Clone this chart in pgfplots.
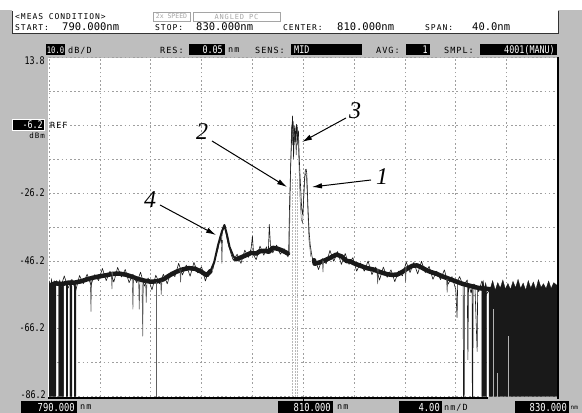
\documentclass[border=0pt]{standalone}
\usepackage{fontspec}
\usepackage{pgfplots}
\pgfplotsset{compat=1.18}
\usetikzlibrary{arrows.meta}
\setmainfont{DejaVu Sans}
\newfontfamily\mono{DejaVu Sans Mono}
\newfontfamily\cond[FakeStretch=0.8]{DejaVu Sans Mono}
\newfontfamily\smallmono[LetterSpace=12]{DejaVu Sans Mono}
\newfontfamily\ann{Liberation Serif}
\definecolor{bggray}{RGB}{190,190,190}
\definecolor{trace}{RGB}{25,25,25}
\definecolor{lgray}{RGB}{165,165,165}
\newcommand{\tk}{\cond\fontsize{10.5bp}{12bp}\selectfont}
\newcommand{\hd}{\mono\fontsize{10.5bp}{12bp}\selectfont}
\newcommand{\sm}{\smallmono\fontsize{8bp}{9bp}\selectfont}
\newcommand{\smm}{\smallmono\fontsize{8.5bp}{9bp}\selectfont}
\newcommand{\bx}{\cond\fontsize{10.5bp}{12bp}\selectfont}
\newcommand{\bxs}{\cond\fontsize{9bp}{10bp}\selectfont}
\newcommand{\bt}{\cond\fontsize{11bp}{12bp}\selectfont}
\newcommand{\an}{\ann\itshape\fontsize{24bp}{26bp}\selectfont}
\pgfplotsset{
  band/.style={trace, line width=4.5bp, line join=round, line cap=round, mark=none},
  det/.style={trace, line width=0.6bp, line join=round, mark=none},
  spk/.style={gray!75!black, line width=0.6bp, mark=none},
  wspk/.style={gray!60, line width=0.7bp, mark=none},
  blk/.style={fill=trace, draw=trace, line width=0.3bp, mark=none},
}
\begin{document}
\begin{tikzpicture}
\path[use as bounding box] (0,0) rectangle (582bp,413bp);
\clip (0,0) rectangle (582bp,413bp);
\fill[bggray] (0,0) rectangle (582bp,413bp);
\begin{scope}[x=1bp,y=-1bp,shift={(0,413bp)}]
  \fill[white] (0,0) rectangle (582,10);
  \fill[white] (12,10) rectangle (558,34);
  \draw[line width=0.7bp, black!80] (12,11) -- (12,33.5) -- (558,33.5) -- (558,11);
  \fill[white] (48,57.6) rectangle (557.5,397);
\end{scope}

\begin{axis}[
  at={(49bp,16.4bp)}, anchor=south west,
  scale only axis, width=508.5bp, height=339bp,
  xmin=790, xmax=830, ymin=-86.2, ymax=13.8,
  axis line style={draw=none}, tick style={draw=none},
  xtick={790,794,798,802,806,810,814,818,822,826,830},
  ytick={-86.2,-76.2,-66.2,-56.2,-46.2,-36.2,-26.2,-16.2,-6.2,3.8,13.8},
  xticklabels={}, yticklabels={},
  grid=major,
  major grid style={gray!75, line width=0.7bp, dash pattern=on 1.6bp off 2.6bp},
  clip=true,
]
% centre dotted columns
\addplot[gray!55, line width=0.6bp, dash pattern=on 1.5bp off 1.5bp] coordinates {(809.15,-86.2)(809.15,-22)};
\addplot[gray!55, line width=0.6bp, dash pattern=on 1.5bp off 1.5bp] coordinates {(809.35,-86.2)(809.35,-20)};
\addplot[gray!55, line width=0.6bp, dash pattern=on 1.5bp off 1.5bp] coordinates {(809.55,-86.2)(809.55,-22)};

% left black dropout blocks
\addplot[blk] coordinates {(790.0,-86.2)(790.0,-52.5)(790.1,-54.2)(790.2,-51.5)(790.3,-53.8)(790.4,-52.0)(790.55,-53.2)(790.55,-86.2)};
\addplot[blk] coordinates {(790.75,-86.2)(790.75,-53.0)(790.85,-51.8)(790.95,-54.0)(791.05,-52.2)(791.15,-53.5)(791.15,-86.2)};
\addplot[blk] coordinates {(791.35,-86.2)(791.35,-52.6)(791.42,-54.0)(791.48,-52.4)(791.48,-86.2)};
\addplot[blk] coordinates {(791.65,-86.2)(791.65,-53.0)(791.72,-51.9)(791.8,-53.6)(791.8,-86.2)};
\addplot[blk] coordinates {(791.98,-86.2)(791.98,-52.5)(792.05,-54.0)(792.12,-52.8)(792.12,-86.2)};
% right black blocks
\addplot[blk] coordinates {(824.05,-86.2)(824.05,-53.5)(824.15,-52.0)(824.25,-54.5)(824.35,-52.6)(824.42,-54.0)(824.42,-86.2)};
\addplot[blk] coordinates {(824.62,-86.2)(824.62,-54.2)(824.7,-54.5)(824.9,-52.0)(825.1,-54.8)(825.3,-52.6)(825.5,-54.2)(825.7,-51.8)(825.9,-54.5)(826.1,-52.8)(826.3,-54.6)(826.5,-52.2)(826.7,-54.1)(826.9,-51.6)(827.1,-54.3)(827.3,-52.7)(827.5,-54.8)(827.7,-52.0)(827.9,-54.2)(828.1,-52.4)(828.3,-54.6)(828.5,-51.7)(828.7,-54.0)(828.9,-52.9)(829.1,-54.4)(829.3,-52.1)(829.5,-54.3)(829.7,-52.6)(830.0,-53.5)(830.0,-86.2)};

% noise band
\addplot[band] coordinates {(790.0,-53.5)(790.5,-52.8)(791.0,-53.0)(791.5,-52.6)(792.0,-52.6)(792.5,-52.2)(793.0,-51.6)(793.5,-51.1)(794.0,-50.7)(794.5,-50.4)(795.0,-50.0)(795.5,-49.9)(796.0,-50.2)(796.5,-50.8)(797.0,-51.5)(797.5,-52.0)(798.0,-52.3)(798.5,-52.2)(799.0,-51.6)(799.5,-50.4)(800.0,-49.4)(800.5,-48.7)(801.0,-48.3)(801.5,-48.5)(802.0,-49.4)(802.4,-50.4)(802.7,-49.2)};
\addplot[trace, line width=2bp, line join=round] coordinates {(802.5,-50.0)(802.7,-49.2)(803.0,-46.5)(803.3,-41.5)(803.6,-37.5)(803.8,-35.6)(804.0,-38.5)(804.2,-42.0)(804.5,-44.8)(804.7,-45.7)};
\addplot[band] coordinates {(804.7,-45.7)(805.0,-45.3)(805.5,-44.5)(805.9,-43.8)(806.3,-44.0)(806.6,-43.3)(807.0,-43.2)(807.3,-43.5)(807.6,-42.3)(808.0,-42.6)(808.4,-43.2)(808.8,-44.0)};
\addplot[band] coordinates {(810.85,-46.0)(810.9,-47.0)(811.3,-46.6)(811.7,-46.0)(812.1,-45.3)(812.6,-44.3)(813.0,-44.8)(813.4,-46.2)(813.7,-46.3)(814.0,-46.9)(814.5,-47.6)(815.0,-48.3)(815.5,-48.7)(816.0,-49.4)(816.6,-50.1)(817.0,-50.3)(817.4,-50.2)(817.8,-49.4)(818.2,-48.4)(818.6,-47.6)(818.95,-47.5)(819.3,-48.1)(819.7,-48.9)(820.0,-49.4)(820.5,-50.0)(821.0,-50.8)(821.5,-51.5)(822.0,-52.2)(822.5,-52.9)(823.0,-53.4)(823.5,-53.9)(824.0,-54.3)(824.7,-54.5)};

% grey spikes
\addplot[spk] coordinates {(793.25,-52.0)(793.3,-61.1)(793.35,-52.0)};
\addplot[spk] coordinates {(796.55,-51.5)(796.6,-60.5)(796.65,-51.5)};
\addplot[spk] coordinates {(797.05,-52.0)(797.1,-60.5)(797.15,-52.0)};
\addplot[spk] coordinates {(797.32,-52.5)(797.37,-68.4)(797.42,-52.5)};
\addplot[spk] coordinates {(797.6,-52.5)(797.65,-58.5)(797.7,-52.5)};
\addplot[spk] coordinates {(798.78,-52.0)(798.83,-56.1)(798.88,-52.0)};
\addplot[trace!70, line width=0.8bp] coordinates {(798.43,-52.5)(798.43,-86.2)};
\addplot[spk] coordinates {(803.55,-40.0)(803.6,-47.0)(803.65,-40.0)};
\addplot[spk] coordinates {(821.27,-51.5)(821.32,-55.5)(821.37,-51.5)};
\addplot[spk] coordinates {(818.0,-48.0)(818.05,-52.5)(818.1,-48.0)};
\addplot[spk] coordinates {(811.5,-46.0)(811.55,-49.5)(811.6,-46.0)};
\addplot[spk] coordinates {(794.9,-49.5)(794.95,-54.5)(795.0,-49.5)};
\addplot[spk] coordinates {(800.3,-48.5)(800.35,-52.5)(800.4,-48.5)};
\addplot[spk] coordinates {(815.8,-48.5)(815.85,-53.0)(815.9,-48.5)};

% secondary grey trace in peaks
\addplot[gray!70!black, line width=0.5bp] coordinates {(808.9,-44.0)(809.0,-20.0)(809.08,-6.0)(809.14,-12.0)(809.22,-5.0)(809.3,-12.0)(809.36,-7.0)(809.45,-15.0)(809.55,-6.5)(809.65,-16.0)(809.75,-28.0)(809.85,-34.0)(809.95,-35.0)(810.05,-26.0)(810.15,-20.5)(810.25,-21.0)(810.35,-30.0)(810.45,-40.0)(810.6,-45.0)};

% main detailed trace
\addplot[det] coordinates {(790.0,-52.0)(790.3,-55.1)(790.6,-52.0)(790.9,-54.2)(791.2,-50.6)(791.5,-54.2)(791.8,-51.6)(792.1,-55.0)(792.4,-50.5)(792.7,-52.9)(793.0,-50.1)(793.3,-53.3)(793.6,-50.2)(793.9,-52.0)(794.2,-48.4)(794.5,-52.0)(794.8,-49.2)(795.1,-52.4)(795.4,-48.1)(795.7,-50.9)(796.0,-48.7)(796.3,-52.6)(796.6,-50.1)(796.9,-52.6)(797.2,-49.5)(797.5,-53.6)(797.8,-51.2)(798.1,-54.7)(798.4,-50.4)(798.7,-52.9)(799.0,-50.1)(799.3,-52.9)(799.6,-49.4)(799.9,-50.8)(800.2,-46.9)(800.5,-50.3)(800.8,-47.4)(801.1,-50.7)(801.4,-46.6)(801.7,-49.7)(802.0,-47.9)(802.3,-52.1)(802.6,-48.8)(802.9,-48.6)(803.1,-45.0)(803.3,-42.5)(803.45,-39.0)(803.55,-41.0)(803.65,-37.0)(803.8,-35.4)(803.9,-37.5)(804.05,-40.5)(804.2,-42.5)(804.35,-44.5)(804.5,-46.0)(804.8,-44.2)(805.1,-46.9)(805.4,-43.0)(805.7,-45.1)(805.9,-42.5)(806.0,-38.9)(806.1,-44.5)(806.3,-45.8)(806.6,-41.8)(806.9,-44.5)(807.1,-42.0)(807.25,-44.0)(807.33,-35.4)(807.42,-41.5)(807.6,-43.8)(807.9,-41.5)(808.2,-44.2)(808.5,-42.6)(808.8,-45.0)(808.85,-44.0)(808.92,-30.0)(808.98,-22.0)(809.05,-14.0)(809.1,-8.0)(809.16,-3.4)(809.2,-9.0)(809.24,-16.0)(809.28,-9.0)(809.33,-6.3)(809.38,-11.0)(809.43,-8.0)(809.47,-5.9)(809.52,-12.0)(809.57,-9.0)(809.62,-7.8)(809.67,-14.0)(809.72,-19.0)(809.8,-25.0)(809.88,-30.9)(809.95,-32.5)(810.02,-29.0)(810.1,-22.0)(810.17,-19.3)(810.23,-19.1)(810.28,-20.5)(810.33,-26.0)(810.4,-33.0)(810.47,-38.0)(810.55,-41.5)(810.65,-44.0)(810.75,-46.0)(810.9,-45.5)(811.2,-48.7)(811.5,-45.5)(811.8,-47.0)(812.1,-43.1)(812.4,-46.3)(812.7,-43.4)(813.0,-47.2)(813.3,-44.0)(813.6,-47.2)(813.9,-45.2)(814.2,-49.2)(814.5,-46.8)(814.8,-49.2)(815.1,-46.2)(815.4,-50.2)(815.7,-48.0)(816.0,-51.8)(816.3,-48.0)(816.6,-51.0)(816.9,-48.8)(817.2,-52.3)(817.5,-49.2)(817.8,-50.6)(818.1,-46.5)(818.4,-49.6)(818.7,-46.6)(819.0,-50.0)(819.3,-46.3)(819.6,-49.6)(819.9,-47.8)(820.2,-51.6)(820.5,-49.2)(820.8,-51.7)(821.1,-48.8)(821.4,-53.0)(821.7,-50.8)(822.0,-54.6)(822.1,-62.9)(822.15,-52.0)(822.3,-50.8)(822.58,-53.5)(822.6,-86.2)(822.66,-86.2)(822.68,-53.0)(822.9,-51.8)(822.95,-75.3)(823.0,-53.0)(823.2,-55.6)(823.28,-54.0)(823.3,-86.2)(823.34,-86.2)(823.36,-53.0)(823.5,-53.1)(823.68,-72.9)(823.72,-54.0)(823.8,-55.3)(824.05,-52.1)(824.4,-56.0)(824.7,-54.5)};

% lighter lines inside the right black block
\addplot[wspk] coordinates {(824.99,-60.5)(824.99,-86.2)};
\addplot[wspk] coordinates {(825.26,-79.2)(825.26,-86.2)};
\addplot[wspk] coordinates {(826.13,-68.4)(826.13,-86.2)};
\end{axis}

\begin{scope}[x=1bp,y=-1bp,shift={(0,413bp)}]
  % frame lines
  \draw[line width=1.8bp, black] (48,398.3) -- (488,398.3);
  \draw[line width=1.5bp, black] (557.8,57) -- (557.8,399.5);
  \draw[line width=0.8bp] (303.3,398) -- (303.3,401);

  % header
  \node[anchor=west, inner sep=0, font=\sm] at (15,16.5) {<MEAS CONDITION>};
  \draw[lgray, line width=0.6bp] (153,12) rectangle (190,21);
  \node[anchor=center, inner sep=0, font=\mono\fontsize{6.5bp}{7bp}\selectfont, text=lgray] at (171.5,16.5) {2x SPEED};
  \draw[lgray, line width=0.6bp] (193,12) rectangle (280,21);
  \node[anchor=center, inner sep=0, font=\smallmono\fontsize{7bp}{8bp}\selectfont, text=lgray] at (236.5,16.5) {ANGLED PC};
  \node[anchor=base west, inner sep=0, font=\sm] at (15,31) {START:};
  \node[anchor=base west, inner sep=0, font=\hd] at (62,31) {790.000nm};
  \node[anchor=base west, inner sep=0, font=\sm] at (155,31) {STOP:};
  \node[anchor=base west, inner sep=0, font=\hd] at (196,31) {830.000nm};
  \node[anchor=base west, inner sep=0, font=\sm] at (283,31) {CENTER:};
  \node[anchor=base west, inner sep=0, font=\hd] at (337,31) {810.000nm};
  \node[anchor=base west, inner sep=0, font=\sm] at (425,31) {SPAN:};
  \node[anchor=base west, inner sep=0, font=\hd] at (472,31) {40.0nm};

  % second row
  \fill[black] (46,44.5) rectangle (65,55.5);
  \node[anchor=center, inner sep=0, font=\bxs, text=white] at (55.5,50) {10.0};
  \node[anchor=west, inner sep=0, font=\smm] at (68,50.5) {dB/D};
  \node[anchor=west, inner sep=0, font=\smm] at (160,50.5) {RES:};
  \fill[black] (189,44.5) rectangle (225,55.5);
  \node[anchor=east, inner sep=0, font=\bx, text=white] at (223,50) {0.05};
  \node[anchor=west, inner sep=0, font=\smm] at (228,50.5) {nm};
  \node[anchor=west, inner sep=0, font=\smm] at (255,50.5) {SENS:};
  \fill[black] (291,44.5) rectangle (362,55.5);
  \node[anchor=west, inner sep=0, font=\bx, text=white] at (294,50) {MID};
  \node[anchor=west, inner sep=0, font=\smm] at (376,50.5) {AVG:};
  \fill[black] (406,44.5) rectangle (430,55.5);
  \node[anchor=east, inner sep=0, font=\bx, text=white] at (428,50) {1};
  \node[anchor=west, inner sep=0, font=\smm] at (444,50.5) {SMPL:};
  \fill[black] (480,44.5) rectangle (557,55.5);
  \node[anchor=east, inner sep=0, font=\bx, text=white] at (555,50) {4001(MANU)};

  % y labels
  \node[anchor=east, inner sep=0, font=\tk] at (45,61) {13.8};
  \fill[black] (12,119) rectangle (45,131);
  \draw[white, line width=0.5bp] (12.5,119.5) rectangle (44.5,130.5);
  \node[anchor=east, inner sep=0, font=\tk, text=white] at (43,125) {-6.2};
  \node[anchor=east, inner sep=0, font=\smallmono\fontsize{7.5bp}{8bp}\selectfont] at (45,136) {dBm};
  \node[anchor=west, inner sep=0, font=\smm] at (50,125.5) {REF};
  \node[anchor=east, inner sep=0, font=\tk] at (45,193) {-26.2};
  \node[anchor=east, inner sep=0, font=\tk] at (45,261) {-46.2};
  \node[anchor=east, inner sep=0, font=\tk] at (45,328) {-66.2};
  \node[anchor=east, inner sep=0, font=\tk] at (46,395) {-86.2};

  % bottom labels
  \fill[black] (21,401.5) rectangle (77,413);
  \node[anchor=east, inner sep=0, font=\bt, text=white] at (75,407.3) {790.000};
  \node[anchor=west, inner sep=0, font=\smm] at (80,407.5) {nm};
  \fill[black] (278,401.5) rectangle (333,413);
  \node[anchor=east, inner sep=0, font=\bt, text=white] at (331,407.3) {810.000};
  \node[anchor=west, inner sep=0, font=\smm] at (337,407.5) {nm};
  \fill[black] (399,401.5) rectangle (442,413);
  \node[anchor=east, inner sep=0, font=\bt, text=white] at (440,407.3) {4.00};
  \node[anchor=west, inner sep=0, font=\smm] at (444,407.5) {nm/D};
  \fill[black] (515,401.5) rectangle (569,413);
  \node[anchor=east, inner sep=0, font=\bt, text=white] at (567,407.3) {830.000};
  \node[anchor=west, inner sep=0, font=\mono\fontsize{6bp}{7bp}\selectfont] at (570.5,407.5) {nm};

  % annotations
  \node[font=\an, inner sep=0] at (355,111) {3};
  \draw[line width=1bp, -{Latex[length=10bp,width=5.5bp]}] (346,118) -- (302,142);
  \node[font=\an, inner sep=0] at (202,132) {2};
  \draw[line width=1bp, -{Latex[length=10bp,width=5.5bp]}] (212,141) -- (287,187);
  \node[font=\an, inner sep=0] at (382,177) {1};
  \draw[line width=1bp, -{Latex[length=10bp,width=5.5bp]}] (371,180) -- (312,187);
  \node[font=\an, inner sep=0] at (150,200) {4};
  \draw[line width=1bp, -{Latex[length=10bp,width=5.5bp]}] (160,205) -- (216,235);
\end{scope}
\end{tikzpicture}
\end{document}
